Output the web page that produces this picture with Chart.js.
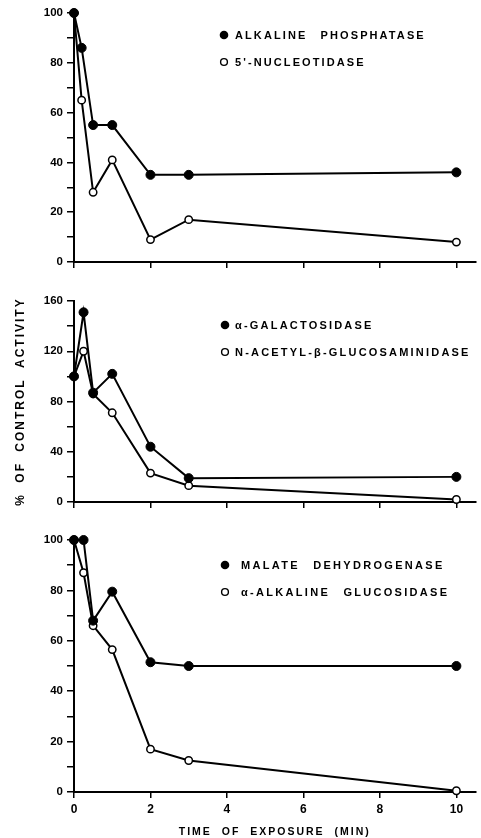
<!DOCTYPE html>
<html>
<head>
<meta charset="utf-8">
<script src="https://cdn.jsdelivr.net/npm/chart.js@4.4.1/dist/chart.umd.min.js"></script>
<style>
  body { margin: 0; background: #fff; }
  .panel { position: absolute; left: 0; width: 481px; }
</style>
</head>
<body>
<div class="panel" style="top:0;height:280px"><canvas id="c1"></canvas></div>
<div class="panel" style="top:290px;height:230px"><canvas id="c2"></canvas></div>
<div class="panel" style="top:525px;height:313px"><canvas id="c3"></canvas></div>
<script>
// exposure times in minutes
const timesTop = [0, 0.2, 0.5, 1, 2, 3, 10]
const times = [0, 0.25, 0.5, 1, 2, 3, 10]
const xTicks = [0, 2, 4, 6, 8, 10]

// % of control activity
const alkalinePhosphatase = [100, 86, 55, 55, 35, 35, 36]
const nucleotidase = [100, 65, 28, 41, 9, 17, 8]
const galactosidase = [100, 151, 87, 102, 44, 19, 20]
const glucosaminidase = [100, 120, 86, 71, 23, 13, 2]
const malateDehydrogenase = [100, 100, 68, 79.5, 51.5, 50, 50]
const glucosidase = [100, 87, 66, 56.5, 17, 12.5, 0.5]

const namesTop = ['ALKALINE PHOSPHATASE', "5'-NUCLEOTIDASE"]
const namesMid = ['α-GALACTOSIDASE', 'N-ACETYL-β-GLUCOSAMINIDASE']
const namesBottom = ['MALATE DEHYDROGENASE', 'α-ALKALINE GLUCOSIDASE']

const FONT = 'Liberation Sans'

// axis titles get spaced letters, tick labels (z:1, drawn after datasets) do not
const spacing = {
  id: 'spacing',
  beforeDraw(chart) {
    chart.ctx.letterSpacing = '2px'
    chart.ctx.wordSpacing = '5px'
  },
  beforeDatasetsDraw(chart) {
    chart.ctx.letterSpacing = '0px'
    chart.ctx.wordSpacing = '0px'
  }
}

// legend sits inside the plot, to the right
const panelLegend = {
  id: 'panelLegend',
  afterDraw(chart, args, opts) {
    const ctx = chart.ctx
    ctx.save()
    ctx.letterSpacing = opts.spacing
    ctx.wordSpacing = '8px'
    ctx.font = `bold 11px "${FONT}"`
    ctx.textBaseline = 'middle'
    ctx.fillStyle = '#000'
    ctx.strokeStyle = '#000'
    chart.data.datasets.forEach((ds, i) => {
      const y = opts.y + i * 27
      ctx.beginPath()
      if (ds.pointBackgroundColor === '#000') {
        ctx.arc(opts.x, y, 4.3, 0, Math.PI * 2)
        ctx.fill()
      } else {
        ctx.lineWidth = 1.4
        ctx.arc(opts.x, y, 3.4, 0, Math.PI * 2)
        ctx.stroke()
      }
      ctx.fillText(ds.label, opts.textX, y + 0.5)
    })
    ctx.restore()
  }
}

function makeChart(id, x, filled, hollow, names, yMax, yStep, labelEvery, opts) {
  return new Chart(document.getElementById(id), {
    type: 'line',
    data: {
      datasets: [
        {
          label: names[0],
          data: x.map((t, i) => ({ x: t, y: filled[i] })),
          borderColor: '#000', borderWidth: 2, clip: false,
          pointRadius: 4.5, pointBackgroundColor: '#000', pointBorderColor: '#000', pointBorderWidth: 1
        },
        {
          label: names[1],
          data: x.map((t, i) => ({ x: t, y: hollow[i] })),
          borderColor: '#000', borderWidth: 2, clip: false,
          pointRadius: 3.7, pointBackgroundColor: '#fff', pointBorderColor: '#000', pointBorderWidth: 1.5
        }
      ]
    },
    options: {
      responsive: true,
      maintainAspectRatio: false,
      animation: false,
      layout: { padding: { top: opts.top, right: 4, left: 0, bottom: 0 } },
      plugins: {
        legend: { display: false },
        tooltip: { enabled: false },
        panelLegend: opts.legend
      },
      scales: {
        x: {
          type: 'linear', min: 0, max: 10.5,
          afterBuildTicks: s => { s.ticks = xTicks.map(v => ({ value: v })) },
          afterFit: s => { s.height = opts.xHeight },
          ticks: { display: opts.xLabels, color: '#000', font: { family: FONT, size: 12, weight: 'bold' }, padding: 4, z: 1 },
          grid: { drawOnChartArea: false, color: '#000', tickLength: 6, lineWidth: 1.5 },
          border: { color: '#000', width: 2 },
          title: {
            display: opts.xLabels, text: 'TIME OF EXPOSURE (MIN)', color: '#000',
            font: { family: FONT, size: 10.5, weight: 'bold' }, padding: { top: 0, bottom: 0 }
          }
        },
        y: {
          min: 0, max: yMax,
          afterFit: s => { s.width = 74 },
          ticks: {
            stepSize: yStep, color: '#000', padding: 4, z: 1,
            font: { family: FONT, size: 11.5, weight: 'bold' },
            callback: v => v % labelEvery === 0 ? v : ''
          },
          grid: { drawOnChartArea: false, color: '#000', tickLength: 7, lineWidth: 1.5 },
          border: { color: '#000', width: 2 },
          title: {
            display: !!opts.yTitle, text: opts.yTitle || '', color: '#000',
            font: { family: FONT, size: 12, weight: 'bold' }, padding: { top: 13, bottom: 0 }
          }
        }
      }
    },
    plugins: [spacing, panelLegend]
  })
}

makeChart('c1', timesTop, alkalinePhosphatase, nucleotidase, namesTop, 100, 10, 20,
  { top: 13, xHeight: 18, xLabels: false, legend: { x: 224, textX: 235, y: 35, spacing: '2.1px' } })
makeChart('c2', times, galactosidase, glucosaminidase, namesMid, 160, 20, 40,
  { top: 11, xHeight: 18, xLabels: false, yTitle: '% OF CONTROL ACTIVITY', legend: { x: 225, textX: 235, y: 35, spacing: '2.2px' } })
makeChart('c3', times, malateDehydrogenase, glucosidase, namesBottom, 100, 10, 20,
  { top: 15, xHeight: 46, xLabels: true, legend: { x: 225, textX: 241, y: 40, spacing: '2.3px' } })
</script>
</body>
</html>
